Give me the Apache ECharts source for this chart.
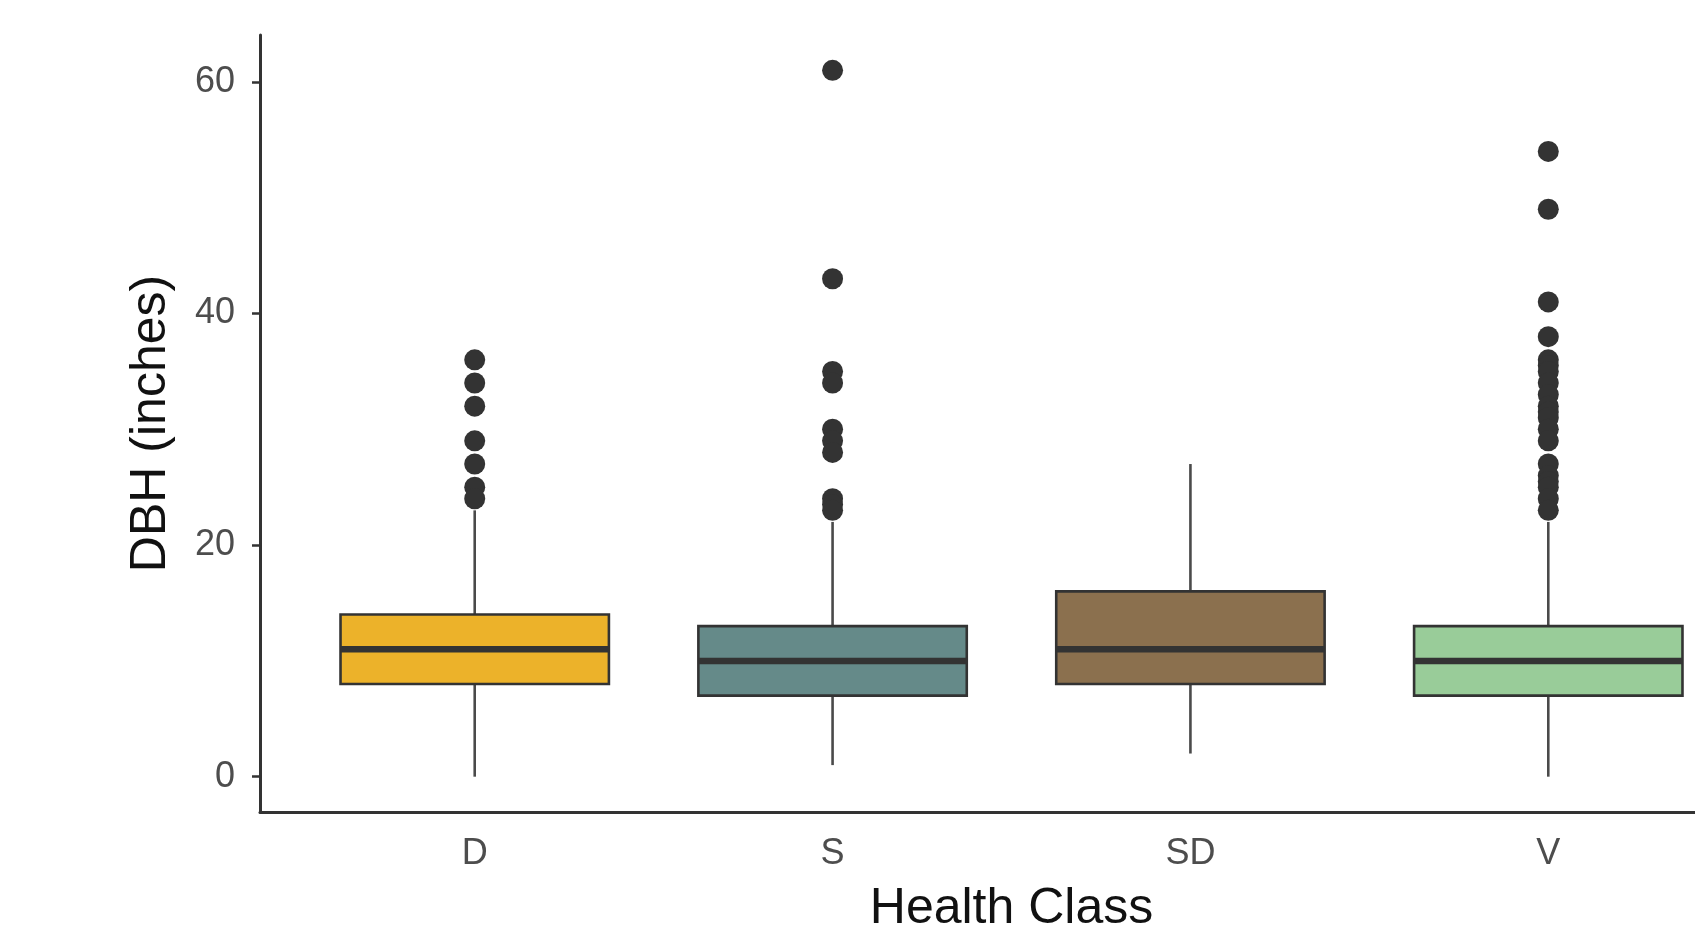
<!DOCTYPE html>
<html>
<head>
<meta charset="utf-8">
<title>DBH by Health Class</title>
<script src="https://cdn.jsdelivr.net/npm/echarts@6/dist/echarts.min.js"></script>
<style>
  html, body { margin: 0; padding: 0; background: #ffffff; }
  #chart { width: 1695px; height: 927px; }
</style>
</head>
<body>
<div id="chart"></div>
<script>
// Health classes along the x axis
const categories = ['D', 'S', 'SD', 'V'];

// Five-number summaries (inches) per class
const whiskerLow  = [0, 1, 2, 0];
const quartile1   = [8, 7, 8, 7];
const medians     = [11, 10, 11, 10];
const quartile3   = [14, 13, 16, 13];
const whiskerHigh = [23, 22, 27, 22];

// Outlying trees per class
const outliersD  = [36, 34, 32, 29, 27, 25, 24];
const outliersS  = [61, 43, 35, 34, 30, 29, 28, 24, 23.5, 23];
const outliersSD = [];
const outliersV  = [54, 49, 41, 38, 36, 35.5, 35, 34, 33, 32, 31.5, 31, 30, 29, 27, 26, 25.5, 25, 24, 23];

// Y axis tick labels
const yTicks = [0, 20, 40, 60];

const fillColors = ['#ECB22A', '#658A89', '#8B704E', '#99CC99'];
const FONT = '"Liberation Sans", Arial, Helvetica, sans-serif';

// Box rows: [position, low, q1, median, q3, high]
const boxRows = categories.map((c, i) => [i + 1, whiskerLow[i], quartile1[i], medians[i], quartile3[i], whiskerHigh[i]]);

const outlierRows = [];
[outliersD, outliersS, outliersSD, outliersV].forEach((list, i) => {
  list.forEach(v => outlierRows.push([i + 1, v]));
});

function renderBox(params, api) {
  const x = api.value(0);
  const pLo  = api.coord([x, api.value(1)]);
  const pQ1  = api.coord([x, api.value(2)]);
  const pMed = api.coord([x, api.value(3)]);
  const pQ3  = api.coord([x, api.value(4)]);
  const pHi  = api.coord([x, api.value(5)]);
  const half = api.size([0.75, 0])[0] / 2;
  const cx = pMed[0];
  const whisker = { stroke: '#4a4a4a', lineWidth: 2.6 };
  return {
    type: 'group',
    children: [
      { type: 'line', shape: { x1: cx, y1: pHi[1], x2: cx, y2: pQ3[1] }, style: whisker },
      { type: 'line', shape: { x1: cx, y1: pQ1[1], x2: cx, y2: pLo[1] }, style: whisker },
      {
        type: 'rect',
        shape: { x: cx - half, y: pQ3[1], width: half * 2, height: pQ1[1] - pQ3[1] },
        style: { fill: fillColors[params.dataIndex], stroke: '#333333', lineWidth: 2.6 }
      },
      {
        type: 'line',
        shape: { x1: cx - half, y1: pMed[1], x2: cx + half, y2: pMed[1] },
        style: { stroke: '#333333', lineWidth: 6.5 }
      }
    ]
  };
}

const chart = echarts.init(document.getElementById('chart'), null, { renderer: 'canvas' });

chart.setOption({
  backgroundColor: '#ffffff',
  animation: false,
  grid: { left: 260, top: 35, width: 1503, height: 777, containLabel: false, outerBoundsMode: 'none' },
  xAxis: {
    type: 'value',
    min: 0.4,
    max: 4.6,
    name: 'Health Class',
    nameLocation: 'middle',
    nameGap: 72,
    nameTextStyle: { fontFamily: FONT, fontSize: 50, color: '#111111' },
    axisLine: { show: true, onZero: false, lineStyle: { color: '#333333', width: 3 } },
    axisTick: { show: false },
    splitLine: { show: false },
    axisLabel: {
      customValues: categories.map((c, i) => i + 1),
      formatter: v => categories[Math.round(v) - 1] || '',
      fontFamily: FONT,
      fontSize: 36,
      color: '#4d4d4d',
      margin: 24
    }
  },
  yAxis: {
    type: 'value',
    min: -3.05,
    max: 64.05,
    name: 'DBH (inches)',
    nameLocation: 'middle',
    nameGap: 84,
    nameRotate: 90,
    nameTextStyle: { fontFamily: FONT, fontSize: 50, color: '#111111' },
    axisLine: { show: true, lineStyle: { color: '#333333', width: 3 } },
    axisTick: { show: true, customValues: yTicks, length: 8, lineStyle: { color: '#333333', width: 2.5 } },
    splitLine: { show: false },
    axisLabel: {
      customValues: yTicks,
      fontFamily: FONT,
      fontSize: 36,
      color: '#4d4d4d',
      margin: 25
    }
  },
  series: [
    {
      name: 'boxes',
      type: 'custom',
      renderItem: renderBox,
      encode: { x: 0, y: [1, 2, 3, 4, 5] },
      data: boxRows,
      z: 2
    },
    {
      name: 'outliers',
      type: 'scatter',
      symbol: 'circle',
      symbolSize: 21,
      itemStyle: { color: '#333333', opacity: 1 },
      data: outlierRows,
      z: 3
    }
  ]
});
</script>
</body>
</html>
